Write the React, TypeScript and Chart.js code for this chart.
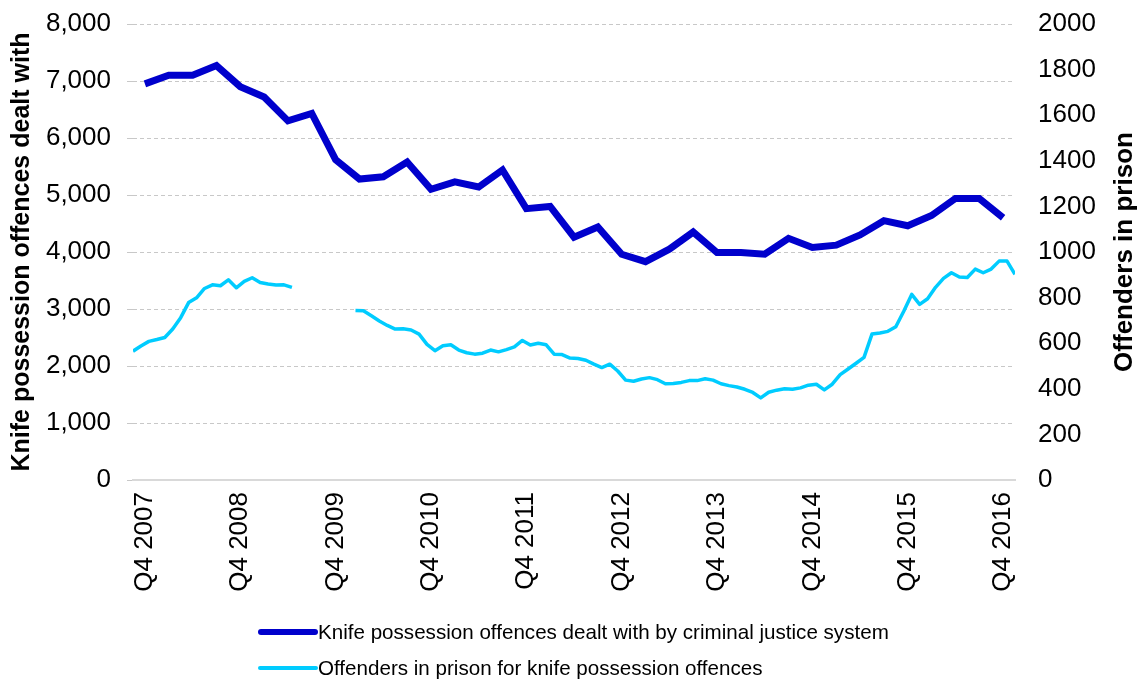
import React, { useEffect, useRef } from 'react';
import { Chart, registerables } from 'chart.js';

Chart.register(...registerables);

// ---- Data ----
const TICK_LABELS = ['Q4 2007', 'Q4 2008', 'Q4 2009', 'Q4 2010', 'Q4 2011', 'Q4 2012', 'Q4 2013', 'Q4 2014', 'Q4 2015', 'Q4 2016'];
const TICK_QUARTERS = [0, 4, 8, 12, 16, 20, 24, 28, 32, 36];

// Quarterly, Q4 2007 .. Q4 2016
const OFFENCES = [
  6950, 7100, 7100, 7270, 6900, 6720, 6300, 6430, 5620, 5280, 5320, 5580,
  5100, 5230, 5140, 5440, 4760, 4800, 4260, 4440, 3960, 3830, 4050, 4350,
  3990, 3990, 3960, 4240, 4080, 4120, 4300, 4550, 4460, 4640, 4940, 4940, 4600,
];

// Monthly, Oct 2007 .. Dec 2016 (gap where no data)
const PRISON_MONTHLY: (number | null)[] = [
  565, 588, 608, 616, 625, 662, 712, 778, 799, 840, 856, 852,
  878, 843, 871, 887, 866, 860, 855, 856, 845, null, null, null,
  null, null, null, null, 743, 742, 720, 697, 678, 662, 663, 658,
  640, 595, 567, 589, 593, 570, 558, 552, 556, 570, 562, 572,
  584, 612, 592, 600, 593, 552, 550, 535, 533, 525, 508, 493,
  508, 478, 438, 433, 443, 449, 440, 422, 423, 428, 436, 436,
  444, 438, 422, 414, 408, 398, 384, 360, 385, 394, 400, 398,
  404, 416, 420, 395, 420, 462, 487, 512, 538, 640, 645, 652,
  672, 740, 814, 770, 795, 845, 884, 909, 890, 888, 925, 909,
  925, 960, 960, 902,
];
const PRISON_START_QUARTER = -0.5;
const MONTHS_PER_QUARTER = 3;

const SERIES_LABELS = [
  'Knife possession offences dealt with by criminal justice system',
  'Offenders in prison for knife possession offences',
];
const SERIES_COLORS = ['#0000CC', '#00CCFF'];
const SERIES_WIDTHS = [7, 3.5];
const LEFT_TITLE = 'Knife possession offences dealt with';
const RIGHT_TITLE = 'Offenders in prison';

const FONT = '"Liberation Sans", Arial, Helvetica, sans-serif';

const rightTitlePlugin = {
  id: 'rightTitle',
  afterDraw(chart: any) {
    const { ctx, chartArea } = chart;
    ctx.save();
    ctx.translate(chart.width - 13, (chartArea.top + chartArea.bottom) / 2);
    ctx.rotate(-Math.PI / 2);
    ctx.font = `bold 26px ${FONT}`;
    ctx.fillStyle = '#000';
    ctx.textAlign = 'center';
    ctx.textBaseline = 'middle';
    ctx.fillText(RIGHT_TITLE, 0, 0);
    ctx.restore();
  },
};

export default function App() {
  const canvasRef = useRef<HTMLCanvasElement | null>(null);

  useEffect(() => {
    const canvas = canvasRef.current;
    if (!canvas) return;
    const chart = new Chart(canvas, {
      type: 'line',
      data: {
        datasets: [
          {
            label: SERIES_LABELS[0],
            data: OFFENCES.map((v, i) => ({ x: i, y: v })),
            xAxisID: 'x',
            yAxisID: 'y',
            borderColor: SERIES_COLORS[0],
            backgroundColor: SERIES_COLORS[0],
            borderWidth: SERIES_WIDTHS[0],
            pointRadius: 0,
            tension: 0,
          },
          {
            label: SERIES_LABELS[1],
            data: PRISON_MONTHLY.map((v, i) => ({ x: PRISON_START_QUARTER + i / MONTHS_PER_QUARTER, y: v })),
            xAxisID: 'x',
            yAxisID: 'y1',
            borderColor: SERIES_COLORS[1],
            backgroundColor: SERIES_COLORS[1],
            borderWidth: SERIES_WIDTHS[1],
            borderJoinStyle: 'round',
            pointRadius: 0,
            tension: 0,
            spanGaps: false,
          },
        ],
      } as any,
      options: {
        responsive: false,
        animation: false,
        layout: { padding: { top: 24, left: 0, right: 0, bottom: 0 } },
        plugins: { legend: { display: false }, tooltip: { enabled: false } },
        scales: {
          x: {
            type: 'linear',
            min: -0.5,
            max: 36.5,
            afterBuildTicks: (s: any) => {
              s.ticks = TICK_QUARTERS.map((v) => ({ value: v }));
            },
            afterFit: (s: any) => {
              s.height = 201;
            },
            grid: { display: false, drawTicks: false },
            border: { display: true, color: '#d9d9d9', width: 2 },
            ticks: {
              autoSkip: false,
              minRotation: 90,
              maxRotation: 90,
              padding: 12,
              color: '#000',
              font: { family: FONT, size: 26 },
              callback: (_v: any, i: number) => TICK_LABELS[i],
            },
          },
          y: {
            position: 'left',
            min: 0,
            max: 8000,
            afterFit: (s: any) => {
              s.width = 133;
              s.paddingTop = 0;
              s.paddingBottom = 0;
            },
            grid: { color: '#c8c8c8', lineWidth: 1, drawTicks: true, tickLength: 6 },
            border: { display: false, dash: [4, 3] },
            ticks: {
              stepSize: 1000,
              padding: 16,
              color: '#000',
              font: { family: FONT, size: 26 },
              callback: (v: any) => Number(v).toLocaleString('en-US'),
            },
            title: {
              display: true,
              text: LEFT_TITLE,
              color: '#000',
              font: { family: FONT, size: 25, weight: 'bold' },
              padding: { top: 7, bottom: 0 },
            },
          },
          y1: {
            position: 'right',
            min: 0,
            max: 2000,
            afterFit: (s: any) => {
              s.width = 123;
              s.paddingTop = 0;
              s.paddingBottom = 0;
            },
            grid: { display: false, drawTicks: false },
            border: { display: false },
            ticks: {
              stepSize: 200,
              padding: 23,
              color: '#000',
              font: { family: FONT, size: 26 },
              callback: (v: any) => String(v),
            },
          },
        },
      } as any,
      plugins: [rightTitlePlugin],
    });
    return () => chart.destroy();
  }, []);

  const legendRows = [632, 668];
  return (
    <div style={{ position: 'absolute', left: 0, top: 0, width: 1138, height: 681, background: '#fff' }}>
      <canvas ref={canvasRef} width={1138} height={681} style={{ position: 'absolute', left: 0, top: 0 }} />
      {SERIES_LABELS.map((label, i) => (
        <div
          key={label}
          style={{
            position: 'absolute',
            left: 258,
            top: legendRows[i] - 15,
            height: 30,
            display: 'flex',
            alignItems: 'center',
            whiteSpace: 'nowrap',
            fontFamily: FONT,
            fontSize: 20.6,
            color: '#000',
          }}
        >
          <span
            style={{
              display: 'inline-block',
              width: 60,
              height: i === 0 ? 6 : 3.5,
              background: SERIES_COLORS[i],
              borderRadius: 3,
            }}
          />
          <span>{label}</span>
        </div>
      ))}
    </div>
  );
}
